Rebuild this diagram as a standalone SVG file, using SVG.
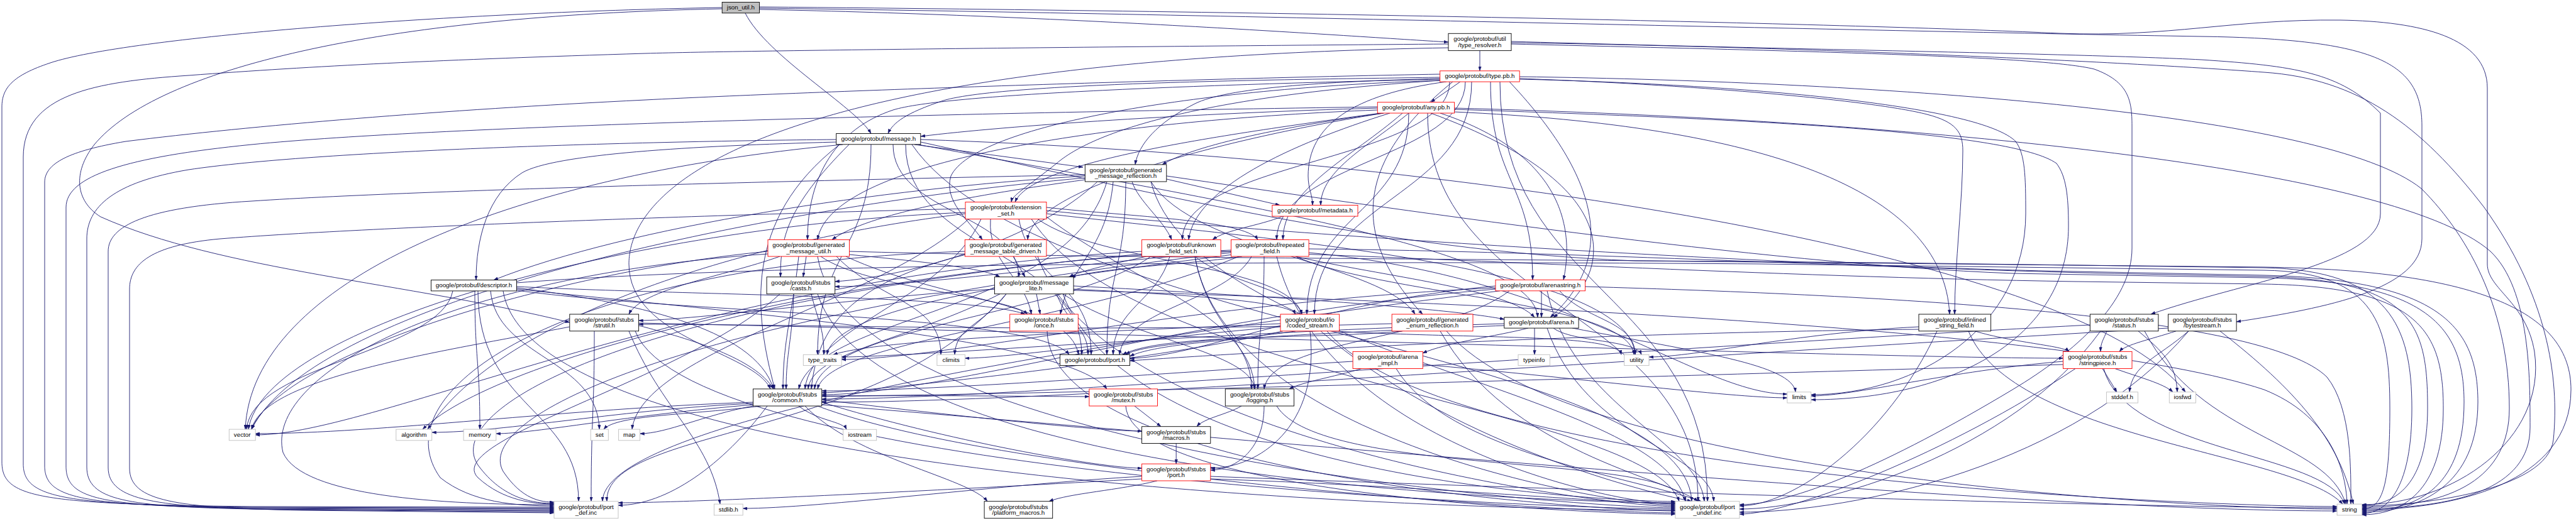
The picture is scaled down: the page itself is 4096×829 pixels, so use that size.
<svg xmlns="http://www.w3.org/2000/svg" width="4096" height="829" viewBox="0 0 4096 829">
<defs>
<marker id="ah" viewBox="0 0 10 7" refX="10" refY="3.5" markerWidth="7" markerHeight="5" markerUnits="userSpaceOnUse" orient="auto"><path d="M0,0 L10,3.5 L0,7 z" fill="#191970" stroke="#191970" stroke-width="0.5"/></marker>
<style>
.node rect{fill:#fff;stroke:#000;stroke-width:0.9}
.red rect{stroke:#ff0000}
.ext rect{stroke:#bfbfbf}
.root rect{fill:#bfbfbf}
text{font-family:"Liberation Sans",Arial,Helvetica,sans-serif;font-size:9.8px;text-anchor:middle;fill:#000}
#edges path{fill:none;stroke:#191970;stroke-width:0.9;marker-end:url(#ah)}
</style>
</defs>
<rect width="4096" height="829" fill="#fff"/>
<g id="edges">
<path d="M1185,21 C1220,90 1360,170 1385,212.5"/>
<path d="M1207,15 C1700,25 2150,58 2303,67"/>
<path d="M1207,13 C1800,20 3000,50 3500,58 C3780,62 3851,100 3851,200 L3851,380 C3851,460 3700,490 3556,512"/>
<path d="M1207,11 C2200,20 3000,40 3274,53 C3450,60 3550,30 3721,32 C3850,34 3955,60 3955,140 L3955,420 C3955,460 4017,480 4030,560 C4050,700 3900,803 3755.5,803"/>
<path d="M1148,14 C600,25 250,110 150,230 C115,275 120,320 160,345 C350,430 650,450 905.8,513"/>
<path d="M1148,12 C700,20 200,60 80,100 C20,120 3,140 3,170 L3,735 C3,792 60,802 400,806 L881,807"/>
<path d="M2353,80.6 L2353,112.8"/>
<path d="M2303,70 C1800,74 1200,80 1026,85 C700,95 500,105 300,120 C150,130 37,150 37,250 L37,738 C37,793 100,803 400,807 L881,808.5"/>
<path d="M2303,76 C1200,95 1000,300 1000,420 C1000,540 1200,560 1225,618.9"/>
<path d="M2403,66 C2900,80 3300,85 3500,95 C3650,105 3720,115 3785,180 L3785,340 C3785,420 3560,450 3420,500"/>
<path d="M2403,68 C2900,75 3400,100 3600,115 C3750,125 3850,200 3950,330 C4050,470 4070,600 4060,700 C4050,780 3850,805 3755.5,805"/>
<path d="M2403,70 C2900,82 3250,90 3330,110 C3385,130 3390,160 3390,200 L3390,395 C3390,480 3300,560 3200,620 C3000,740 2850,803 2766,803"/>
<path d="M2322,130 L2275,162.7"/>
<path d="M2290,123 C2100,126 1600,130 1500,160 C1440,180 1420,195 1412,212.5"/>
<path d="M2290,125 C2100,130 1950,140 1900,165 C1840,195 1810,230 1805,262"/>
<path d="M2290,118 C1900,125 1300,145 1026,159 C700,175 400,200 200,225 C110,240 71,260 71,290 L71,741 C71,794 130,804 400,808 L881,810"/>
<path d="M2416,126 C2800,135 3150,170 3205,225 C3220,245 3221,280 3221,340 C3221,520 3050,628 2880,628"/>
<path d="M2416,122 C3000,130 3700,180 3850,300 C3930,380 3990,500 3990,650 C3990,760 3900,807 3755.5,807"/>
<path d="M2385,130 C2385,464 2715,464 2715,797.7"/>
<path d="M2340,130 C2340,315 2090,315 2090,500"/>
<path d="M2400,130 C2560,300 2560,420 2465,505"/>
<path d="M2370,130 C2370,290 2437,290 2437,445.3"/>
<path d="M2290,128 C1900,140 1550,200 1512,280 C1500,320 1540,350 1562,381.4"/>
<path d="M2290,126 C1900,135 1500,150 1420,175 C1330,205 1284,280 1284,381.4"/>
<path d="M2416,125 C2700,135 2980,160 3064,182 C3110,194 3121,210 3121,240 C3121,320 3108,420 3108,500"/>
<path d="M2300,130 C2150,150 2080,200 2080,280 C2080,300 2087,310 2087,326.5"/>
<path d="M2330,130 C2330,250 2030,260 2030,381.4"/>
<path d="M2290,128 C1950,150 1750,200 1680,260 C1630,300 1610,310 1608,321.5"/>
<path d="M2310,130 C2150,260 2150,380 2262,500"/>
<path d="M2305,130 C2305,256 1880,256 1880,381.4"/>
<path d="M2190,172 C1900,180 1600,200 1464,217"/>
<path d="M2200,180 C2050,200 1900,230 1848,262"/>
<path d="M2190,170 C1500,180 700,200 400,230 C200,250 105,280 105,330 L105,742 C105,795 160,805 400,809 L881,811.5"/>
<path d="M2312,174 C2800,190 3200,210 3270,260 C3285,280 3289,310 3289,360 C3289,540 3100,636 2880,636"/>
<path d="M2312,172 C3000,190 3800,260 3960,400 C4023,460 4023,600 4023,680 C4023,780 3900,809 3755.5,809"/>
<path d="M2270,180 C2270,490 2700,490 2700,797.7"/>
<path d="M2240,180 C2240,340 2078,340 2078,500"/>
<path d="M2275,180 C2600,300 2560,440 2470,505"/>
<path d="M2290,180 C2500,250 2500,380 2486,445.3"/>
<path d="M2200,180 C1950,220 1640,300 1634,381.4"/>
<path d="M2190,175 C1800,190 1320,250 1300,381.4"/>
<path d="M2312,178 C2800,200 3090,300 3100,500"/>
<path d="M2240,180 C2180,230 2100,270 2100,326.5"/>
<path d="M2230,180 C2150,250 2040,300 2040,381.4"/>
<path d="M2195,180 C1900,220 1640,260 1614,321.5"/>
<path d="M2210,180 C2050,230 1900,300 1890,381.4"/>
<path d="M1454,230 L1722,266"/>
<path d="M1330,226 C1100,232 880,245 830,275 C775,310 757,380 757,445.6"/>
<path d="M1340,230 C800,280 400,450 390,683.1"/>
<path d="M1385,230 C1385,400 1300,400 1300,564.3"/>
<path d="M1350,230 C1250,330 1241,380 1241,440.7"/>
<path d="M1335,230 C1180,350 1200,500 1232,618.9"/>
<path d="M1460,230 C2000,330 2440,400 2445,505"/>
<path d="M1420,230 C1420,340 1620,340 1620,440.7"/>
<path d="M1440,230 C1440,400 1720,400 1720,564.3"/>
<path d="M1464,222 C2300,250 3300,400 3475,623.8"/>
<path d="M1464,226 C1800,300 2200,400 2600,415 L3600,425 C3950,430 4088,500 4088,620 C4088,770 3900,811 3755.5,811"/>
<path d="M1330,222 C1000,225 500,240 300,270 C180,290 138,330 138,380 L138,743 C138,796 200,806 400,810 L881,813"/>
<path d="M1450,230 C1650,520 2680,560 2690,797.7"/>
<path d="M1855,285 L2035,326.5"/>
<path d="M1800,289 C1810,320 1850,350 1863,381.4"/>
<path d="M1725,286 C1550,310 1380,340 1323,381.4"/>
<path d="M1725,280 C1400,300 1000,360 785,445.6"/>
<path d="M1745,289 C1650,380 1450,440 1327.7,448"/>
<path d="M1760,289 C1700,500 1300,500 1270,618.9"/>
<path d="M1725,283 C1200,330 500,480 400,683.1"/>
<path d="M1830,289 C1900,400 2200,420 2250,500"/>
<path d="M1770,289 C1760,400 1700,420 1686,500"/>
<path d="M1790,289 C1790,430 1760,430 1760,564.3"/>
<path d="M1855,280 C2200,330 2800,420 3200,435 L3600,442 C3860,448 3918,520 3918,640 C3918,770 3850,813 3755.5,813"/>
<path d="M1725,278 C1400,285 700,300 400,320 C230,330 172,360 172,400 L172,744 C172,797 250,807 450,811 L881,814.5"/>
<path d="M1830,289 C1900,560 2640,620 2680,797.7"/>
<path d="M2040,344 C2000,360 1950,365 1928,381.4"/>
<path d="M1535,340 C1200,380 800,500 680,683.1"/>
<path d="M1540,348.5 C1400,480 1020,560 1005,683.1"/>
<path d="M1535,338 C1000,360 420,520 395,683.1"/>
<path d="M1560,348.5 C1500,480 1290,520 1280,618.9"/>
<path d="M1575,348.5 C1570,420 1630,440 1640,500"/>
<path d="M1650,348.5 C1750,420 2050,420 2070,500"/>
<path d="M1620,348.5 C1640,450 1735,450 1735,564.3"/>
<path d="M1664,330 C1800,345 1980,350 2000,381.4"/>
<path d="M1664,345 C1800,450 1990,500 1995,618.9"/>
<path d="M1664,340 C2000,380 2590,420 2600,564.3"/>
<path d="M1664,335 C2100,380 2900,425 3300,432 L3600,438 C3880,445 3940,520 3940,640 C3940,770 3850,815 3755.5,815"/>
<path d="M1535,332 C1200,340 600,360 350,380 C240,390 206,420 206,460 L206,745 C206,798 280,808 480,812 L881,816"/>
<path d="M1640,348.5 C1800,600 2620,650 2670,797.7"/>
<path d="M1282,408 L1277,440.7"/>
<path d="M1350.5,405 C1450,415 1560,425 1590,440.7"/>
<path d="M1305,408 C1380,460 1600,470 1634,500"/>
<path d="M1330,408 C1400,480 1496,480 1496,564.3"/>
<path d="M1270,408 C1260,500 1245,540 1245,618.9"/>
<path d="M1221,400 C900,430 450,560 400,683.1"/>
<path d="M1345,408 C1500,480 1700,480 1715,564.3"/>
<path d="M1240,408 C1150,440 1020,460 1000,500"/>
<path d="M1350.5,400 C1700,410 2300,412 3000,418 L3600,426 C3800,430 3835,520 3835,650 C3835,770 3800,817 3755.5,817"/>
<path d="M1221,404 C700,440 420,600 450,720 C480,790 700,803 881,803"/>
<path d="M1300,408 C1350,720 2500,808 2663.9,808"/>
<path d="M1611,408 L1630,440.7"/>
<path d="M1540,404 C1350,450 1300,520 1290,618.9"/>
<path d="M1534,400 C900,420 600,620 700,760 C750,800 820,805 881,805"/>
<path d="M1650,408 C1750,700 2550,806 2663.9,806"/>
<path d="M1823,408 C1770,420 1720,430 1700,440.7"/>
<path d="M1900,408 C1950,450 2060,460 2070,500"/>
<path d="M1900,408 C1920,520 1990,540 1990,618.9"/>
<path d="M1860,408 C1840,480 1770,490 1770,564.3"/>
<path d="M1830,408 C1700,500 1310,520 1295,618.9"/>
<path d="M1815.6,400 C1100,440 600,692 406.2,692"/>
<path d="M1941,400 C2300,410 2800,440 3300,448 L3600,452 C3850,456 3885,530 3885,650 C3885,770 3830,819 3755.5,819"/>
<path d="M1815.6,404 C1000,480 700,650 760,740 C800,795 850,801 881,801"/>
<path d="M1900,408 C1950,700 2560,804 2663.9,804"/>
<path d="M1957.5,400 C1700,420 1450,456 1327.7,456"/>
<path d="M1975,408 C1900,420 1760,425 1703,441"/>
<path d="M2060,408 C2200,470 2590,480 2598,564.3"/>
<path d="M1957.5,398 C1400,420 800,560 672,683.1"/>
<path d="M2081,402 C2500,440 2700,627 2841.8,627"/>
<path d="M1960,405 C1700,440 1330,480 1315,564.3"/>
<path d="M2010,408 C2010,520 2000,520 2000,618.9"/>
<path d="M1970,408 C1700,520 1320,540 1300,618.9"/>
<path d="M2060,408 C2200,440 2400,460 2440,505"/>
<path d="M1990,408 C1950,480 1790,490 1780,564.3"/>
<path d="M2081,396 C2500,400 3000,428 3400,436 L3600,440 C3840,445 3860,520 3860,650 C3860,770 3810,804 3755.5,804"/>
<path d="M1957.5,402 C1100,500 750,660 800,750 C830,795 860,799 881,799"/>
<path d="M2030,408 C2100,700 2560,802 2663.9,802"/>
<path d="M755,463 C755,573 763,573 763,683.1"/>
<path d="M780,463 C790,570 950,570 953,683.1"/>
<path d="M720,463 C700,560 400,580 392,683.1"/>
<path d="M821.5,458 C1000,480 1200,520 1230,618.9"/>
<path d="M821.5,460 C1200,500 1700,540 1760,618.9"/>
<path d="M821.5,456 C1100,470 1550,470 1630,500"/>
<path d="M821.5,462 C1100,500 1650,500 1700,564.3"/>
<path d="M821.5,450 C1200,420 2000,414 2800,420 L3600,430 C3780,433 3800,520 3800,650 C3800,770 3790,810 3755.5,810"/>
<path d="M760,463 C760,650 920,650 920,797.7"/>
<path d="M800,463 C850,780 2400,812 2663.9,812"/>
<path d="M2451,462.8 L2451,505"/>
<path d="M2480,462.8 C2520,510 2600,510 2600,564.3"/>
<path d="M2378,458 C1900,480 1500,572 1338,572"/>
<path d="M2400,462.8 C2300,540 2020,540 2010,618.9"/>
<path d="M2378,460 C1900,500 1500,628 1306.7,628"/>
<path d="M2378,455 C2100,480 1900,570 1796.5,570"/>
<path d="M2520,456 C3000,470 3600,500 3700,600 C3740,650 3738,750 3738,802.1"/>
<path d="M2385,462.8 C1600,560 960,680 958,797.7"/>
<path d="M2460,462.8 C2500,650 2700,700 2710,797.7"/>
<path d="M1262,467.7 C1260,540 1250,560 1250,618.9"/>
<path d="M1290,467.7 C1300,510 1310,520 1310,564.3"/>
<path d="M1240,467.7 C1100,600 700,700 760,760 C800,797 850,802 881,802"/>
<path d="M1300,467.7 C1400,780 2550,800 2663.9,800"/>
<path d="M1648,467.7 L1654,500"/>
<path d="M1600,467.7 C1560,520 1520,520 1518,564.3"/>
<path d="M1590,467.7 C1450,540 1290,560 1285,618.9"/>
<path d="M1690,467.7 C1800,540 1990,560 1995,618.9"/>
<path d="M1707,460 C1900,470 2050,480 2060,500"/>
<path d="M1707,455 C2000,470 2300,490 2392,508"/>
<path d="M1680,467.7 C1700,520 1730,520 1730,564.3"/>
<path d="M1581.4,460 C1400,470 1100,510 1015.6,510"/>
<path d="M1707,462 C2300,480 3300,520 3600,620 C3700,660 3730,740 3732,802.1"/>
<path d="M1600,467.7 C1400,700 960,680 965,797.7"/>
<path d="M1690,467.7 C1800,760 2550,798 2663.9,798"/>
<path d="M1000,526.8 C1050,650 1130,700 1145,802.1"/>
<path d="M905.8,520 C700,560 420,600 400,683.1"/>
<path d="M1015.6,518 C1100,540 1200,570 1230,618.9"/>
<path d="M1015.6,514 C1800,530 3000,570 3280.5,570"/>
<path d="M945,526.8 C945,660 940,660 940,797.7"/>
<path d="M1010,526.8 C1100,760 2500,810 2663.9,810"/>
<path d="M1665,526.8 C1670,760 2550,813 2663.9,813"/>
<path d="M2036,520 C1800,540 1600,570 1534.4,570"/>
<path d="M2120,526.8 C2350,540 2570,530 2578,564.3"/>
<path d="M2036,515 C1700,530 1400,540 1325,564.3"/>
<path d="M2040,526.8 C1800,580 1350,625 1306.7,625"/>
<path d="M2060,526.8 C1980,540 1820,545 1790,564.3"/>
<path d="M2083,526.8 C2100,680 2000,745 1924.8,745"/>
<path d="M2110,526.8 C2300,760 3500,806 3716.1,806"/>
<path d="M2100,526.8 C2300,700 2600,780 2690,797.7"/>
<path d="M2230,526.8 C2100,540 1850,530 1785,564.3"/>
<path d="M2213,515 C1700,530 1300,516 1015.6,516"/>
<path d="M2300,526.8 C2500,760 3500,810 3716.1,810"/>
<path d="M2290,526.8 C2400,720 2650,760 2700,797.7"/>
<path d="M2430,522 C2380,535 2300,545 2262,562"/>
<path d="M2440,522 L2440,564.3"/>
<path d="M2470,522 C2500,545 2600,540 2610,564.3"/>
<path d="M2500,522 C2700,560 2850,580 2855,623.8"/>
<path d="M2392,515 C1900,530 1450,568 1338,568"/>
<path d="M2392,518 C2100,530 1850,540 1796.5,567"/>
<path d="M2460,522 C2520,700 2720,720 2725,797.7"/>
<path d="M3140,526.8 C3200,545 3280,550 3290,559.4"/>
<path d="M3051,520 C2850,530 2700,568 2622,568"/>
<path d="M3051,524 C2500,530 2000,560 1796.5,574"/>
<path d="M3130,526.8 C3200,700 3650,720 3725,802.1"/>
<path d="M3080,526.8 C3000,700 2850,805 2765.9,805"/>
<path d="M3350,526.8 C3345,540 3340,545 3340,559.4"/>
<path d="M3400,526.8 C3440,560 3460,580 3462,623.8"/>
<path d="M3323,517 C2500,560 1600,635 1306.7,635"/>
<path d="M3410,526.8 C3500,700 3700,700 3730,802.1"/>
<path d="M3340,526.8 C3200,720 2900,810 2765.9,810"/>
<path d="M3480,526.8 C3430,570 3390,580 3386,623.8"/>
<path d="M3460,526.8 C3420,540 3380,548 3370,559.4"/>
<path d="M3447.5,522 C2600,570 1700,640 1306.7,640"/>
<path d="M3530,526.8 C3650,620 3720,700 3742,802.1"/>
<path d="M3480,526.8 C3300,740 2950,815 2765.9,815"/>
<path d="M1270,646 C1300,670 1340,670 1346,683.3"/>
<path d="M1280,646 C1360,730 1540,760 1570,797.7"/>
<path d="M1306.7,640 C1500,700 1750,745 1815.6,745"/>
<path d="M1306.7,636 C1500,660 1750,686 1815.6,686"/>
<path d="M1306.7,631 C1450,628 1650,631 1731.9,631"/>
<path d="M1197.5,640 C900,650 600,690 406.2,690"/>
<path d="M1197.5,642 C1000,650 800,688 686.7,688"/>
<path d="M1197.5,644 C1000,660 850,690 788.8,690"/>
<path d="M1210,646 C1100,660 980,660 960,683.1"/>
<path d="M1197.5,646 C1120,660 1060,690 1017.6,690"/>
<path d="M1306.7,644 C2000,700 3200,813 3716.1,813"/>
<path d="M1220,646 C1150,740 1060,804 983,804"/>
<path d="M1300,646 C1600,760 2500,816 2663.9,816"/>
<path d="M1804,646 L1846,678.7"/>
<path d="M1790,646 C1800,790 2550,818 2663.9,818"/>
<path d="M1974,646 C1950,660 1915,665 1903,678.7"/>
<path d="M2010,646 C2010,720 1960,748 1924.8,748"/>
<path d="M2030,646 C2100,760 2660,720 2680,797.7"/>
<path d="M1870.2,705.5 L1870.2,738.1"/>
<path d="M1815.6,758 C1600,770 1300,809 1181.2,809"/>
<path d="M1840,765 C1780,780 1700,785 1668,797.7"/>
<path d="M1924.8,758 C2500,780 3400,808 3716.1,808"/>
<path d="M1815.6,762 C1500,780 1100,800 983,800"/>
<path d="M1924.8,762 C2300,775 2550,801 2663.9,801"/>
<path d="M2165,586.5 C2120,600 2070,608 2050,618.9"/>
<path d="M2262,580 C2500,600 2750,633 2841.8,633"/>
<path d="M2151,575 C1900,590 1500,622 1306.7,622"/>
<path d="M2220,586.5 C2300,720 2600,760 2705,797.7"/>
<path d="M3343,586.5 L3366,623.8"/>
<path d="M3363,586.5 C3400,600 3440,610 3455,623.8"/>
<path d="M3345,586.5 C3380,720 3700,720 3728,802.1"/>
<path d="M3280.5,575 C3100,590 2950,630 2879.7,630"/>
<path d="M3280.5,580 C2600,600 1600,630 1306.7,630"/>
<path d="M3300,586.5 C3100,720 2850,818 2765.9,818"/>
</g>
<g id="node_json_util" class="node root"><rect x="1148.2" y="3.5" width="59.3" height="17.3"/><text x="1177.8" y="14.9">json_util.h</text></g>
<g id="node_type_resolver" class="node"><rect x="2303" y="53.3" width="100" height="27.3"/><text x="2353" y="65.1">google/protobuf/util</text><text x="2353" y="74.5">/type_resolver.h</text></g>
<g id="node_type_pb" class="node red"><rect x="2289.7" y="112.8" width="126.5" height="17.3"/><text x="2353" y="124.2">google/protobuf/type.pb.h</text></g>
<g id="node_any_pb" class="node red"><rect x="2190.3" y="162.7" width="122.3" height="17.3"/><text x="2251.5" y="174.1">google/protobuf/any.pb.h</text></g>
<g id="node_message" class="node"><rect x="1329.7" y="212.5" width="134.1" height="17.3"/><text x="1396.8" y="223.9">google/protobuf/message.h</text></g>
<g id="node_gmr" class="node"><rect x="1725.3" y="261.9" width="129.5" height="27.1"/><text x="1790" y="273.7">google/protobuf/generated</text><text x="1790" y="283.1">_message_reflection.h</text></g>
<g id="node_metadata" class="node red"><rect x="2022.9" y="326.5" width="136.1" height="17.6"/><text x="2091" y="338.1">google/protobuf/metadata.h</text></g>
<g id="node_extension_set" class="node red"><rect x="1535" y="321.5" width="128.9" height="27"/><text x="1599.5" y="333.3">google/protobuf/extension</text><text x="1599.5" y="342.7">_set.h</text></g>
<g id="node_gmu" class="node red"><rect x="1221" y="381.4" width="129.5" height="26.6"/><text x="1285.8" y="393.2">google/protobuf/generated</text><text x="1285.8" y="402.6">_message_util.h</text></g>
<g id="node_gmtd" class="node red"><rect x="1534.3" y="381.4" width="129.6" height="26.6"/><text x="1599.1" y="393.2">google/protobuf/generated</text><text x="1599.1" y="402.6">_message_table_driven.h</text></g>
<g id="node_ufs" class="node red"><rect x="1815.6" y="381.4" width="125.5" height="26.6"/><text x="1878.4" y="393.2">google/protobuf/unknown</text><text x="1878.4" y="402.6">_field_set.h</text></g>
<g id="node_repeated_field" class="node red"><rect x="1957.5" y="381.4" width="123.6" height="26.6"/><text x="2019.3" y="393.2">google/protobuf/repeated</text><text x="2019.3" y="402.6">_field.h</text></g>
<g id="node_descriptor" class="node"><rect x="685.4" y="445.6" width="136.1" height="17.3"/><text x="753.5" y="457">google/protobuf/descriptor.h</text></g>
<g id="node_arenastring" class="node red"><rect x="2378" y="445.3" width="142.6" height="17.5"/><text x="2449.3" y="456.9">google/protobuf/arenastring.h</text></g>
<g id="node_casts" class="node"><rect x="1219.1" y="440.7" width="108.6" height="27"/><text x="1273.4" y="452.5">google/protobuf/stubs</text><text x="1273.4" y="461.9">/casts.h</text></g>
<g id="node_message_lite" class="node"><rect x="1581.4" y="440.7" width="125.6" height="27"/><text x="1644.2" y="452.5">google/protobuf/message</text><text x="1644.2" y="461.9">_lite.h</text></g>
<g id="node_strutil" class="node"><rect x="905.8" y="500" width="109.8" height="26.8"/><text x="960.7" y="511.8">google/protobuf/stubs</text><text x="960.7" y="521.2">/strutil.h</text></g>
<g id="node_once" class="node red"><rect x="1605.7" y="500" width="108.6" height="26.8"/><text x="1660" y="511.8">google/protobuf/stubs</text><text x="1660" y="521.2">/once.h</text></g>
<g id="node_coded_stream" class="node red"><rect x="2036" y="500" width="93.6" height="26.8"/><text x="2082.8" y="511.8">google/protobuf/io</text><text x="2082.8" y="521.2">/coded_stream.h</text></g>
<g id="node_ger" class="node red"><rect x="2213.2" y="500" width="128.8" height="26.8"/><text x="2277.6" y="511.8">google/protobuf/generated</text><text x="2277.6" y="521.2">_enum_reflection.h</text></g>
<g id="node_arena" class="node"><rect x="2391.8" y="505" width="118.3" height="17.1"/><text x="2451" y="516.3">google/protobuf/arena.h</text></g>
<g id="node_isf" class="node"><rect x="3051" y="500" width="114.6" height="26.8"/><text x="3108.3" y="511.8">google/protobuf/inlined</text><text x="3108.3" y="521.2">_string_field.h</text></g>
<g id="node_status" class="node"><rect x="3323.3" y="500" width="108.6" height="26.8"/><text x="3377.6" y="511.8">google/protobuf/stubs</text><text x="3377.6" y="521.2">/status.h</text></g>
<g id="node_bytestream" class="node"><rect x="3447.5" y="500" width="108.6" height="26.8"/><text x="3501.8" y="511.8">google/protobuf/stubs</text><text x="3501.8" y="521.2">/bytestream.h</text></g>
<g id="node_type_traits" class="node ext"><rect x="1277.3" y="564.3" width="60.8" height="17.3"/><text x="1307.7" y="575.7">type_traits</text></g>
<g id="node_climits" class="node ext"><rect x="1489.9" y="564.3" width="44.5" height="17.3"/><text x="1512.2" y="575.7">climits</text></g>
<g id="node_port_h" class="node"><rect x="1685.4" y="564.3" width="111.1" height="17.3"/><text x="1741" y="575.7">google/protobuf/port.h</text></g>
<g id="node_common" class="node"><rect x="1197.5" y="618.9" width="109.2" height="27.1"/><text x="1252.1" y="630.7">google/protobuf/stubs</text><text x="1252.1" y="640.1">/common.h</text></g>
<g id="node_mutex" class="node red"><rect x="1731.9" y="618.9" width="108.6" height="27.1"/><text x="1786.2" y="630.7">google/protobuf/stubs</text><text x="1786.2" y="640.1">/mutex.h</text></g>
<g id="node_logging" class="node"><rect x="1948.3" y="618.9" width="109.3" height="27.1"/><text x="2003" y="630.7">google/protobuf/stubs</text><text x="2003" y="640.1">/logging.h</text></g>
<g id="node_iostream" class="node ext"><rect x="1340.7" y="683.3" width="53" height="17.5"/><text x="1367.2" y="694.9">iostream</text></g>
<g id="node_macros" class="node"><rect x="1815.6" y="678.7" width="109.2" height="26.8"/><text x="1870.2" y="690.5">google/protobuf/stubs</text><text x="1870.2" y="699.9">/macros.h</text></g>
<g id="node_stubs_port" class="node red"><rect x="1815.6" y="738.1" width="109.2" height="26.9"/><text x="1870.2" y="749.9">google/protobuf/stubs</text><text x="1870.2" y="759.3">/port.h</text></g>
<g id="node_stdlib" class="node ext"><rect x="1135.4" y="802.1" width="45.8" height="17.8"/><text x="1158.3" y="813.9">stdlib.h</text></g>
<g id="node_platform_macros" class="node"><rect x="1565.1" y="797.7" width="108.6" height="27"/><text x="1619.4" y="809.5">google/protobuf/stubs</text><text x="1619.4" y="818.9">/platform_macros.h</text></g>
<g id="node_arena_impl" class="node red"><rect x="2151.1" y="559.4" width="111.2" height="27.1"/><text x="2206.7" y="571.2">google/protobuf/arena</text><text x="2206.7" y="580.6">_impl.h</text></g>
<g id="node_typeinfo" class="node ext"><rect x="2414" y="564.3" width="50.4" height="17.3"/><text x="2439.2" y="575.7">typeinfo</text></g>
<g id="node_utility" class="node ext"><rect x="2582.7" y="564.3" width="39.3" height="17.3"/><text x="2602.3" y="575.7">utility</text></g>
<g id="node_limits" class="node ext"><rect x="2841.8" y="623.8" width="37.9" height="17.3"/><text x="2860.8" y="635.2">limits</text></g>
<g id="node_port_undef" class="node ext"><rect x="2663.9" y="797.7" width="102" height="27"/><text x="2714.9" y="809.5">google/protobuf/port</text><text x="2714.9" y="818.9">_undef.inc</text></g>
<g id="node_stringpiece" class="node red"><rect x="3280.5" y="559.4" width="109.5" height="27.1"/><text x="3335.3" y="571.2">google/protobuf/stubs</text><text x="3335.3" y="580.6">/stringpiece.h</text></g>
<g id="node_stddef" class="node ext"><rect x="3349.4" y="623.8" width="50" height="17.3"/><text x="3374.4" y="635.2">stddef.h</text></g>
<g id="node_iosfwd" class="node ext"><rect x="3449.3" y="623.8" width="42.1" height="17.3"/><text x="3470.4" y="635.2">iosfwd</text></g>
<g id="node_string" class="node ext"><rect x="3716.1" y="802.1" width="39.4" height="17.8"/><text x="3735.8" y="813.9">string</text></g>
<g id="node_vector" class="node ext"><rect x="364.3" y="683.1" width="41.9" height="17.7"/><text x="385.2" y="694.8">vector</text></g>
<g id="node_algorithm" class="node ext"><rect x="629.8" y="683.1" width="56.9" height="17.7"/><text x="658.3" y="694.8">algorithm</text></g>
<g id="node_memory" class="node ext"><rect x="737.1" y="683.1" width="51.7" height="17.7"/><text x="763" y="694.8">memory</text></g>
<g id="node_set" class="node ext"><rect x="939.2" y="683.1" width="28.1" height="17.7"/><text x="953.3" y="694.8">set</text></g>
<g id="node_map" class="node ext"><rect x="983.6" y="683.1" width="34" height="17.7"/><text x="1000.6" y="694.8">map</text></g>
<g id="node_port_def" class="node ext"><rect x="881" y="797.7" width="102" height="27"/><text x="932" y="809.5">google/protobuf/port</text><text x="932" y="818.9">_def.inc</text></g>
</svg>
